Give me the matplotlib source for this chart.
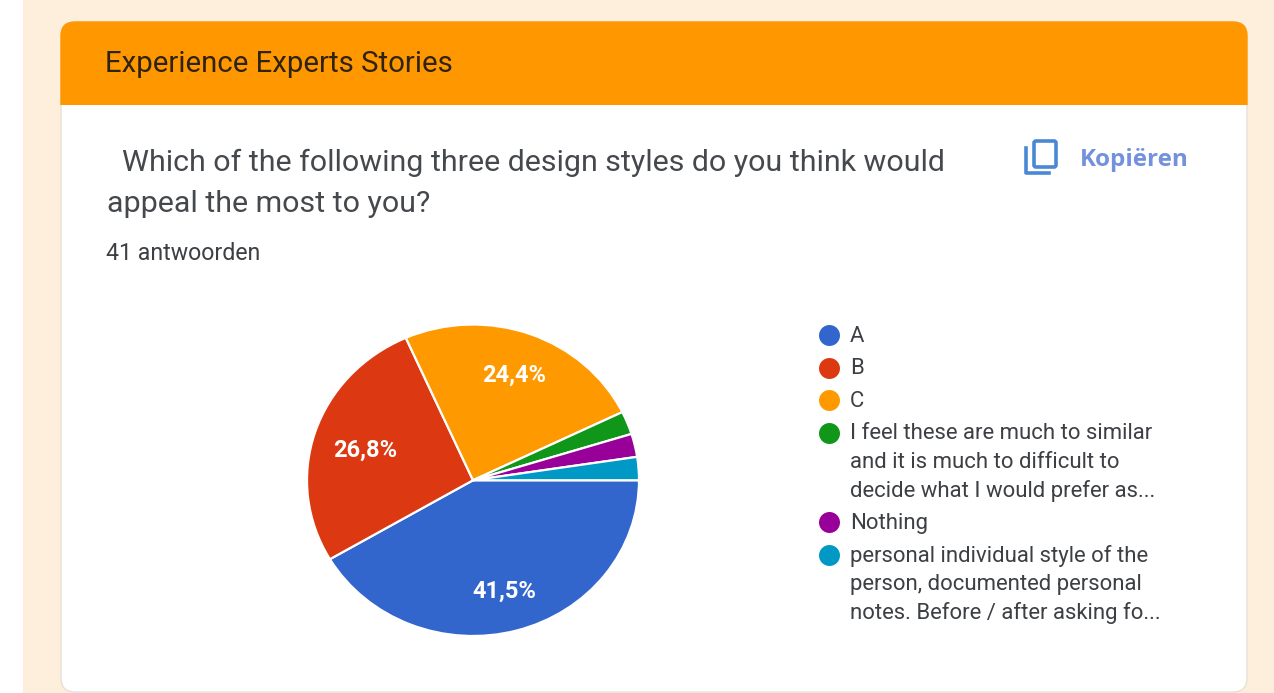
import matplotlib
matplotlib.use('Agg')
import matplotlib.pyplot as plt
from matplotlib.patches import FancyBboxPatch, Rectangle

plt.rcParams['font.family'] = ['Roboto', 'DejaVu Sans']

W, H = 1274, 693

header = 'Experience Experts Stories'
question = ['Which of the following three design styles do you think would',
            'appeal the most to you?']
answers = '41 antwoorden'
copy_label = 'Kopiëren'

shares = [41.5, 26.8, 24.4, 2.4, 2.4, 2.4]
colors = ['#3366cc', '#dc3912', '#ff9900', '#109618', '#990099', '#0099c6']
legend_labels = ['A', 'B', 'C',
                 'I feel these are much to similar\nand it is much to difficult to\ndecide what I would prefer as...',
                 'Nothing',
                 'personal individual style of the\nperson, documented personal\nnotes. Before / after asking fo...']

fig = plt.figure(figsize=(W / 100, H / 100), dpi=100, facecolor='white')

# page layer in pixel coordinates, y pointing down
bg = fig.add_axes([0, 0, 1, 1])
bg.set_xlim(0, W)
bg.set_ylim(H, 0)
bg.axis('off')

bg.add_patch(Rectangle((23, 0), W - 23, H, fc='#fdefdc', ec='none'))

card = FancyBboxPatch((61, 22), 1186, 670, boxstyle='round,pad=0,rounding_size=14',
                      fc='white', ec='#e8e0d6', lw=1)
bg.add_patch(card)
band = FancyBboxPatch((61, 22), 1186, 670, boxstyle='round,pad=0,rounding_size=14',
                      fc='#ff9800', ec='#ff9800', lw=1)
bg.add_patch(band)
band.set_clip_path(Rectangle((60, 21), 1188, 84, transform=bg.transData))

bg.text(105, 64, header, fontsize=21.2, color='#2e2210', va='center', ha='left')
bg.text(122, 163, question[0], fontsize=21.9, color='#45484c', va='center', ha='left')
bg.text(107, 204, question[1], fontsize=21.9, color='#45484c', va='center', ha='left')
bg.text(106, 253, answers, fontsize=16.7, color='#3c3f43', va='center', ha='left')

# copy icon next to the button label
icon = '#4a88d6'
bg.add_patch(FancyBboxPatch((1034, 141), 22, 26, boxstyle='round,pad=0,rounding_size=2',
                            fc='none', ec=icon, lw=2.6))
bg.plot([1026, 1026, 1049], [148, 173, 173], color=icon, lw=2.6, solid_joinstyle='round')
bg.text(1080, 160, copy_label, fontsize=17.5, color='#7391dc', fontweight='bold',
        family=['Open Sans', 'DejaVu Sans'], va='center', ha='left')

# pie is wider than tall, so the axes box sets the ellipse
ax = fig.add_axes([307 / W, 1 - 636 / H, 332 / W, 311.5 / H])
pie_labels = [f'{v:.1f}%'.replace('.', ',') if v > 5 else '' for v in shares]
wedges, texts = ax.pie(shares, colors=colors, startangle=0, counterclock=False,
                       labels=pie_labels, labeldistance=0.72, radius=1,
                       wedgeprops={'edgecolor': 'white', 'linewidth': 1.6, 'clip_on': False},
                       textprops={'color': 'white', 'fontsize': 17, 'fontweight': 'bold'})
for t in texts:
    t.set_ha('center')
    t.set_va('center')
# small shifts to sit the percentages inside their slices
x0, y0 = texts[0].get_position()
texts[0].set_position((x0, y0 - 0.02))
x1, y1 = texts[1].get_position()
texts[1].set_position((x1 + 0.036, y1 - 0.026))
ax.set_aspect('auto')
ax.set_xlim(-1, 1)
ax.set_ylim(-1, 1)

# legend, wrapped entries hang from the first line
y = 335
for label, color in zip(legend_labels, colors):
    n = label.count('\n') + 1
    bg.scatter([829], [y], s=228, color=color, linewidths=0, zorder=3)
    for k, line in enumerate(label.split('\n')):
        bg.text(850, y + k * 28.5 + 1, line, fontsize=15.9, color='#3c3f43', va='center', ha='left')
    y += (n - 1) * 28.5 + 32.6

fig.savefig('out.png', dpi=100, facecolor=fig.get_facecolor())
